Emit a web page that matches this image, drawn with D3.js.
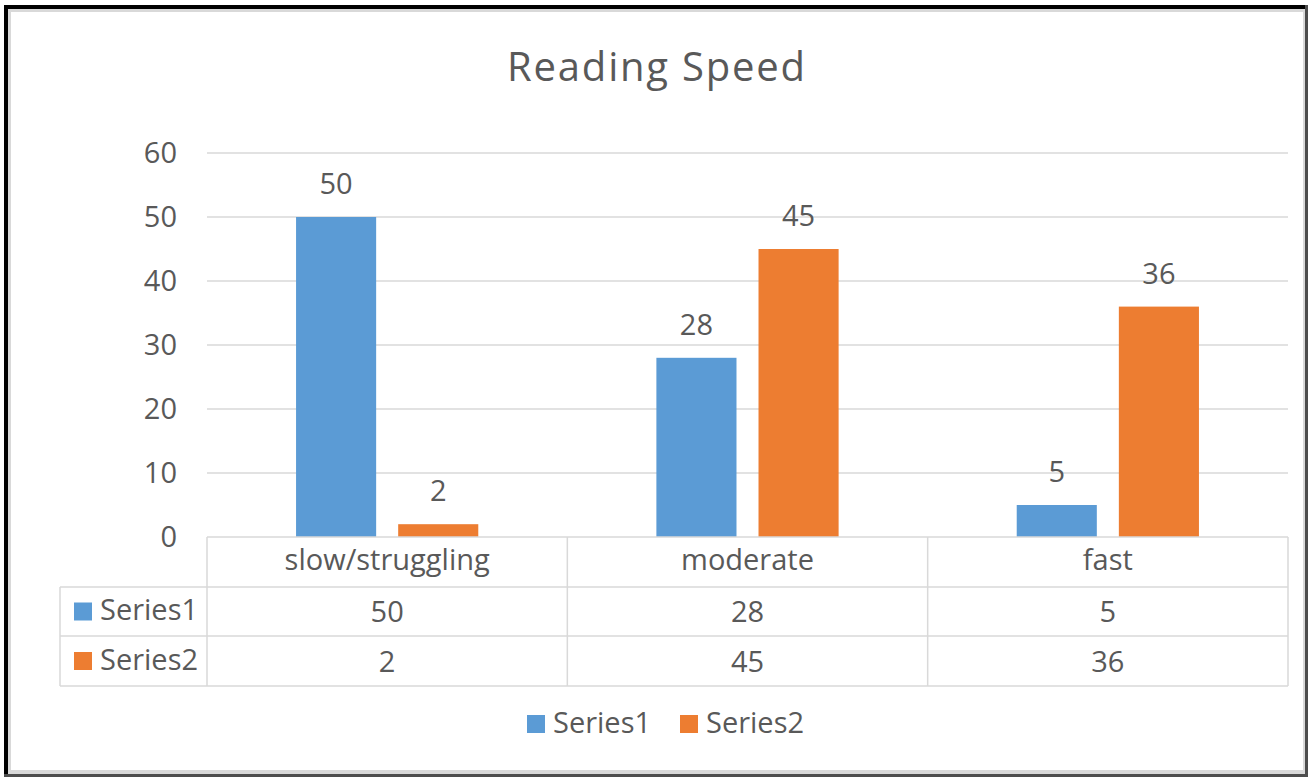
<!DOCTYPE html>
<html>
<head>
<meta charset="utf-8">
<script src="https://cdn.jsdelivr.net/npm/d3@7"></script>
<style>
  html, body { margin: 0; padding: 0; background: #fff; }
  svg { display: block; }
  text { font-family: "Open Sans", "Noto Sans", sans-serif; fill: #595959; }
</style>
</head>
<body>
<svg id="chart" width="1310" height="778"></svg>
<script>
// Chart data
const title = "Reading Speed";
const categories = ["slow/struggling", "moderate", "fast"];
const seriesNames = ["Series1", "Series2"];
const series1 = [50, 28, 5];
const series2 = [2, 45, 36];
const yTicks = [0, 10, 20, 30, 40, 50, 60];
const colors = ["#5B9BD5", "#ED7D31"];

const seriesValues = [series1, series2];

const svg = d3.select("#chart");
const W = 1310, H = 778;
const FONT = 29;

// Frame: dark border with a light inner edge
svg.append("rect").attr("x", 0).attr("y", 0).attr("width", W).attr("height", H).attr("fill", "#fff");
svg.append("rect").attr("x", 4).attr("y", 5).attr("width", 1304).attr("height", 772).attr("fill", "#4d4d4d");
svg.append("rect").attr("x", 4).attr("y", 5).attr("width", 1301).attr("height", 769).attr("fill", "#000");
svg.append("rect").attr("x", 8).attr("y", 9).attr("width", 1297).attr("height", 765).attr("fill", "#d9d9d9");
svg.append("rect").attr("x", 11).attr("y", 12).attr("width", 1292).attr("height", 758).attr("fill", "#fff");

// Plot area
const plot = { left: 207, right: 1288, top: 153, bottom: 537 };

const y = d3.scaleLinear().domain([0, 60]).range([plot.bottom, plot.top]);
const x = d3.scaleBand().domain(categories).range([plot.left, plot.right]).paddingInner(0).paddingOuter(0);
const xs = d3.scaleBand().domain(seriesNames).range([0, x.bandwidth()])
  .paddingInner(22 / 102).paddingOuter(0.872);

// Title
svg.append("text")
  .attr("x", 657).attr("y", 81)
  .attr("text-anchor", "middle")
  .style("font-size", "40px")
  .style("letter-spacing", "1.8px")
  .text(title);

// Gridlines
svg.append("g").selectAll("line")
  .data(yTicks.filter(d => d > 0))
  .join("line")
  .attr("x1", plot.left).attr("x2", plot.right)
  .attr("y1", d => y(d)).attr("y2", d => y(d))
  .attr("stroke", "#d9d9d9").attr("stroke-width", 1.5);

// Y axis labels
const yAxis = d3.axisLeft(y).tickValues(yTicks).tickSize(0).tickPadding(30);
const gy = svg.append("g").attr("transform", `translate(${plot.left},0)`).call(yAxis);
gy.select(".domain").remove();
gy.selectAll("text")
  .style("font-size", FONT + "px")
  .style("font-family", "\"Open Sans\", sans-serif")
  .attr("fill", "#595959");

// Bars
const groups = svg.append("g").selectAll("g")
  .data(categories)
  .join("g")
  .attr("transform", d => `translate(${x(d)},0)`);

groups.selectAll("rect")
  .data((c, i) => seriesNames.map((s, j) => ({ s, v: seriesValues[j][i], j })))
  .join("rect")
  .attr("x", d => xs(d.s))
  .attr("width", xs.bandwidth())
  .attr("y", d => y(d.v))
  .attr("height", d => y(0) - y(d.v))
  .attr("fill", d => colors[d.j]);

// Data labels above bars
groups.selectAll("text.lbl")
  .data((c, i) => seriesNames.map((s, j) => ({ s, v: seriesValues[j][i], j })))
  .join("text")
  .attr("class", "lbl")
  .attr("x", d => xs(d.s) + xs.bandwidth() / 2)
  .attr("y", d => y(d.v) - 23)
  .attr("text-anchor", "middle")
  .style("font-size", FONT + "px")
  .text(d => d.v);

// Data table
const rowTop = [537, 587, 636];
const rowH = [50, 49, 50];
const tableBottom = 686;
const legendColLeft = 60;
const tableStroke = "#d9d9d9";
const t = svg.append("g");

// horizontal lines
t.append("line").attr("x1", plot.left).attr("x2", plot.right).attr("y1", rowTop[0]).attr("y2", rowTop[0])
  .attr("stroke", tableStroke).attr("stroke-width", 1.5);
[rowTop[1], rowTop[2], tableBottom].forEach(yy => {
  t.append("line").attr("x1", legendColLeft).attr("x2", plot.right).attr("y1", yy).attr("y2", yy)
    .attr("stroke", tableStroke).attr("stroke-width", 1.5);
});
// vertical lines
const colEdges = categories.map(c => x(c)).concat([plot.right]);
colEdges.forEach(xx => {
  t.append("line").attr("x1", xx).attr("x2", xx).attr("y1", rowTop[0]).attr("y2", tableBottom)
    .attr("stroke", tableStroke).attr("stroke-width", 1.5);
});
t.append("line").attr("x1", legendColLeft).attr("x2", legendColLeft).attr("y1", rowTop[1]).attr("y2", tableBottom)
  .attr("stroke", tableStroke).attr("stroke-width", 1.5);

// header row: category names
t.selectAll("text.cat")
  .data(categories)
  .join("text")
  .attr("class", "cat")
  .attr("x", d => x(d) + x.bandwidth() / 2)
  .attr("y", rowTop[0] + rowH[0] / 2 + 8)
  .attr("text-anchor", "middle")
  .style("font-size", FONT + "px")
  .text(d => d);

// series rows
seriesNames.forEach((s, j) => {
  const cy = rowTop[j + 1] + rowH[j + 1] / 2;
  t.append("rect").attr("x", 74).attr("y", cy - 9).attr("width", 18).attr("height", 18).attr("fill", colors[j]);
  t.append("text").attr("x", 100).attr("y", cy + 8.5)
    .style("font-size", FONT + "px").text(s);
  t.selectAll("text.v" + j)
    .data(categories)
    .join("text")
    .attr("class", "v" + j)
    .attr("x", d => x(d) + x.bandwidth() / 2)
    .attr("y", cy + 10.5)
    .attr("text-anchor", "middle")
    .style("font-size", FONT + "px")
    .text((d, i) => seriesValues[j][i]);
});

// Legend
const legendX = [527, 680];
const lg = svg.append("g");
seriesNames.forEach((s, j) => {
  lg.append("rect").attr("x", legendX[j]).attr("y", 715).attr("width", 18).attr("height", 18).attr("fill", colors[j]);
  lg.append("text").attr("x", legendX[j] + 26).attr("y", 733)
    .style("font-size", FONT + "px").text(s);
});
</script>
</body>
</html>
